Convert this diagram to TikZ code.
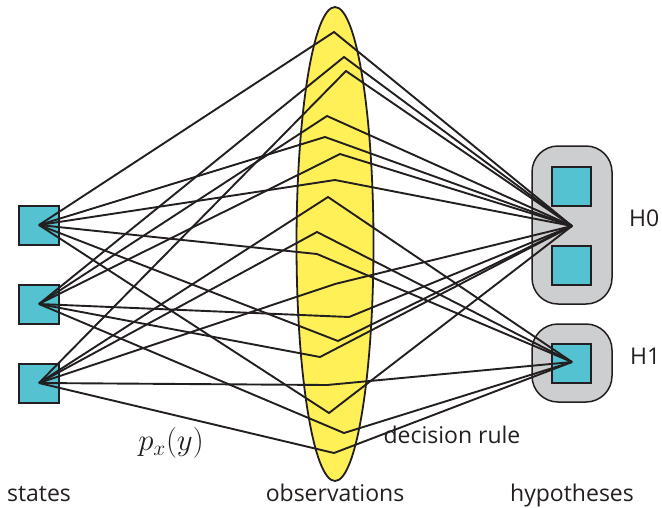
\documentclass[tikz,border=0pt]{standalone}
\usepackage{fontspec}
\setmainfont{Open Sans}
\usetikzlibrary{shapes.geometric}
\definecolor{cyanbox}{RGB}{84,194,208}
\definecolor{hgray}{RGB}{205,206,208}
\definecolor{obsyellow}{RGB}{255,240,88}
\definecolor{ink}{RGB}{35,31,32}
\begin{document}
\begin{tikzpicture}[x=1pt,y=-1pt,
  statebox/.style={draw=ink, line width=2pt, fill=cyanbox, minimum width=40pt, minimum height=39pt, inner sep=0pt},
  hypbox/.style={draw=ink, line width=2pt, fill=cyanbox, minimum width=39pt, minimum height=39pt, inner sep=0pt},
  group/.style={draw=ink, line width=1.5pt, fill=hgray, rounded corners=26pt, inner sep=0pt},
  link/.style={draw=ink, line width=1.9pt, line join=miter},
  lbl/.style={font=\fontsize{23}{26}\selectfont, text=ink, inner sep=0pt}]
\path[use as bounding box] (0,0) rectangle (662,507);
% observations
\node[ellipse, draw=ink, fill=obsyellow, line width=1.8pt, minimum width=77pt, minimum height=474pt, inner sep=0pt] (obs) at (335,244) {};
% hypothesis groups
\node[group, minimum width=80pt, minimum height=158pt] (g0) at (572,225) {};
\node[group, minimum width=80pt, minimum height=78pt] (g1) at (572,363) {};
\node[hypbox] (b0a) at (571.5,186.5) {};
\node[hypbox] (b0b) at (571.5,265) {};
\node[hypbox] (b1) at (571.5,363.5) {};
\coordinate (h0) at (572,226);
\coordinate (h1) at (572,362);
% states
\node[statebox] (s1) at (39,225) {};
\node[statebox] (s2) at (39,304) {};
\node[statebox] (s3) at (39,383) {};
% observation points
\coordinate (v1) at (334,32);
\coordinate (v2) at (344,57);
\coordinate (v3) at (346,71);
\coordinate (v4) at (327,116);
\coordinate (v5) at (325,137);
\coordinate (v6) at (340,154);
\coordinate (v7) at (335,180);
\coordinate (v8) at (328,197);
\coordinate (v9) at (317,232);
\coordinate (v10) at (317,254);
\coordinate (v11) at (335,284);
\coordinate (v12) at (349,317);
\coordinate (v13) at (338,341);
\coordinate (v14) at (320,357);
\coordinate (v15) at (327,385);
\coordinate (v16) at (329,413);
\coordinate (v17) at (344,433);
\coordinate (v18) at (334,453);
% links: state -> observation -> hypothesis
\draw[link] (s1.center) -- (v1) -- (h0);
\draw[link] (s2.center) -- (v2) -- (h0);
\draw[link] (s3.center) -- (v3) -- (h0);
\draw[link] (s2.center) -- (v4) -- (h0);
\draw[link] (s1.center) -- (v5) -- (h0);
\draw[link] (s2.center) -- (v6) -- (h0);
\draw[link] (s1.center) -- (v7) -- (h0);
\draw[link] (s3.center) -- (v8) -- (h1);
\draw[link] (s3.center) -- (v9) -- (h1);
\draw[link] (s1.center) -- (v10) -- (h1);
\draw[link] (s3.center) -- (v11) -- (h0);
\draw[link] (s2.center) -- (v12) -- (h0);
\draw[link] (s1.center) -- (v13) -- (h0);
\draw[link] (s2.center) -- (v14) -- (h0);
\draw[link] (s3.center) -- (v15) -- (h1);
\draw[link] (s1.center) -- (v16) -- (h0);
\draw[link] (s2.center) -- (v17) -- (h1);
\draw[link] (s3.center) -- (v18) -- (h1);
% labels
\node[lbl, anchor=base] (tstates) at (39,501) {states};
\node[lbl, anchor=base] (tobs) at (335,501) {observations};
\node[lbl, anchor=base] (thyp) at (572,501) {hypotheses};
\node[lbl, anchor=base] (tdec) at (452,443) {decision rule};
\node[lbl, anchor=base west] (tH0) at (629,226) {H0};
\node[lbl, anchor=base west] (tH1) at (630,364) {H1};
\node[inner sep=0pt, text=ink, font=\fontsize{24}{28}\selectfont] (tp) at (171,443) {\scalebox{1.24}{$p_x(y)$}};
\end{tikzpicture}
\end{document}
